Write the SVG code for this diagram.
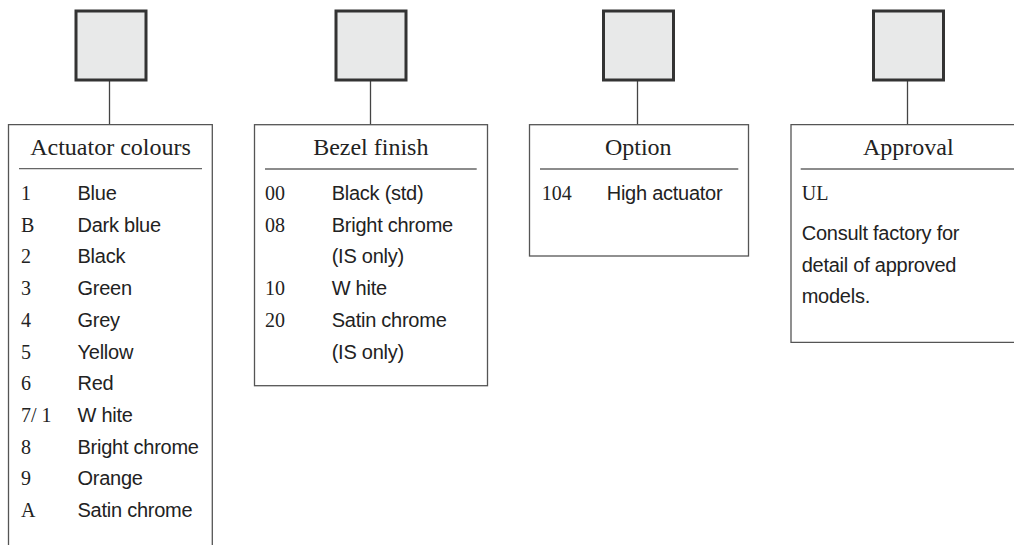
<svg xmlns="http://www.w3.org/2000/svg" width="1014" height="545" viewBox="0 0 1014 545">
<style>
.sq{fill:#e8e9e9;stroke:#333;stroke-width:3}
.box{fill:#fff;stroke:#555;stroke-width:1.3}
.sep{stroke:#666;stroke-width:1.3}
.con{stroke:#444;stroke-width:1.3;fill:none}
.title{font-family:"Liberation Serif",serif;font-size:24px;fill:#222;text-anchor:middle}
.code{font-family:"Liberation Serif",serif;font-size:20px;fill:#222}
.name{font-family:"Liberation Sans",Arial,sans-serif;font-size:20px;fill:#222;letter-spacing:-0.25px}
</style>
<rect width="1014" height="545" fill="#fff"/>
<g id="connectors">
<line class="con" x1="109.5" y1="81" x2="109.5" y2="125"/>
<line class="con" x1="370.5" y1="81" x2="370.5" y2="125"/>
<line class="con" x1="637.5" y1="81" x2="637.5" y2="125"/>
<line class="con" x1="907.5" y1="81" x2="907.5" y2="125"/>
</g>
<g id="sq1"><rect class="sq" x="76" y="11" width="70" height="69"/></g>
<g id="sq2"><rect class="sq" x="336" y="11" width="70" height="69"/></g>
<g id="sq3"><rect class="sq" x="603.5" y="11" width="70" height="69"/></g>
<g id="sq4"><rect class="sq" x="873.5" y="11" width="70" height="69"/></g>
<g id="actuator">
<path class="box" d="M8.5 560 V124.7 H212.3 V560"/>
<line class="sep" x1="19" y1="168.7" x2="202" y2="168.7"/>
<text class="title" x="110.5" y="155">Actuator colours</text>
<text class="code" x="21" y="200">1</text><text class="name" x="77.5" y="200">Blue</text>
<text class="code" x="21" y="231.7">B</text><text class="name" x="77.5" y="231.7">Dark blue</text>
<text class="code" x="21" y="263.4">2</text><text class="name" x="77.5" y="263.4">Black</text>
<text class="code" x="21" y="295.1">3</text><text class="name" x="77.5" y="295.1">Green</text>
<text class="code" x="21" y="326.8">4</text><text class="name" x="77.5" y="326.8">Grey</text>
<text class="code" x="21" y="358.5">5</text><text class="name" x="77.5" y="358.5">Yellow</text>
<text class="code" x="21" y="390.2">6</text><text class="name" x="77.5" y="390.2">Red</text>
<text class="code" x="21" y="421.9">7/ 1</text><text class="name" x="77.5" y="421.9">W hite</text>
<text class="code" x="21" y="453.6">8</text><text class="name" x="77.5" y="453.6">Bright chrome</text>
<text class="code" x="21" y="485.3">9</text><text class="name" x="77.5" y="485.3">Orange</text>
<text class="code" x="21" y="517">A</text><text class="name" x="77.5" y="517">Satin chrome</text>
</g>
<g id="bezel">
<rect class="box" x="254.5" y="124.7" width="233" height="261"/>
<line class="sep" x1="265" y1="169" x2="476.7" y2="169"/>
<text class="title" x="370.8" y="155">Bezel finish</text>
<text class="code" x="265" y="200">00</text><text class="name" x="331.7" y="200">Black (std)</text>
<text class="code" x="265" y="231.7">08</text><text class="name" x="331.7" y="231.7">Bright chrome</text>
<text class="name" x="331.7" y="263.4">(IS only)</text>
<text class="code" x="265" y="295.1">10</text><text class="name" x="331.7" y="295.1">W hite</text>
<text class="code" x="265" y="326.8">20</text><text class="name" x="331.7" y="326.8">Satin chrome</text>
<text class="name" x="331.7" y="358.5">(IS only)</text>
</g>
<g id="option">
<rect class="box" x="529.5" y="124.7" width="219" height="131.3"/>
<line class="sep" x1="540" y1="169" x2="738.3" y2="169"/>
<text class="title" x="638.3" y="155">Option</text>
<text class="code" x="541.7" y="200">104</text><text class="name" x="606.7" y="200">High actuator</text>
</g>
<g id="approval">
<path class="box" d="M1030 342.3 H791 V124.7 H1030"/>
<line class="sep" x1="800.7" y1="169" x2="1014" y2="169"/>
<text class="title" x="908.3" y="155">Approval</text>
<text class="code" x="801.7" y="200">UL</text>
<text class="name" x="801.7" y="240">Consult factory for</text>
<text class="name" x="801.7" y="271.5">detail of approved</text>
<text class="name" x="801.7" y="303">models.</text>
</g>
</svg>
